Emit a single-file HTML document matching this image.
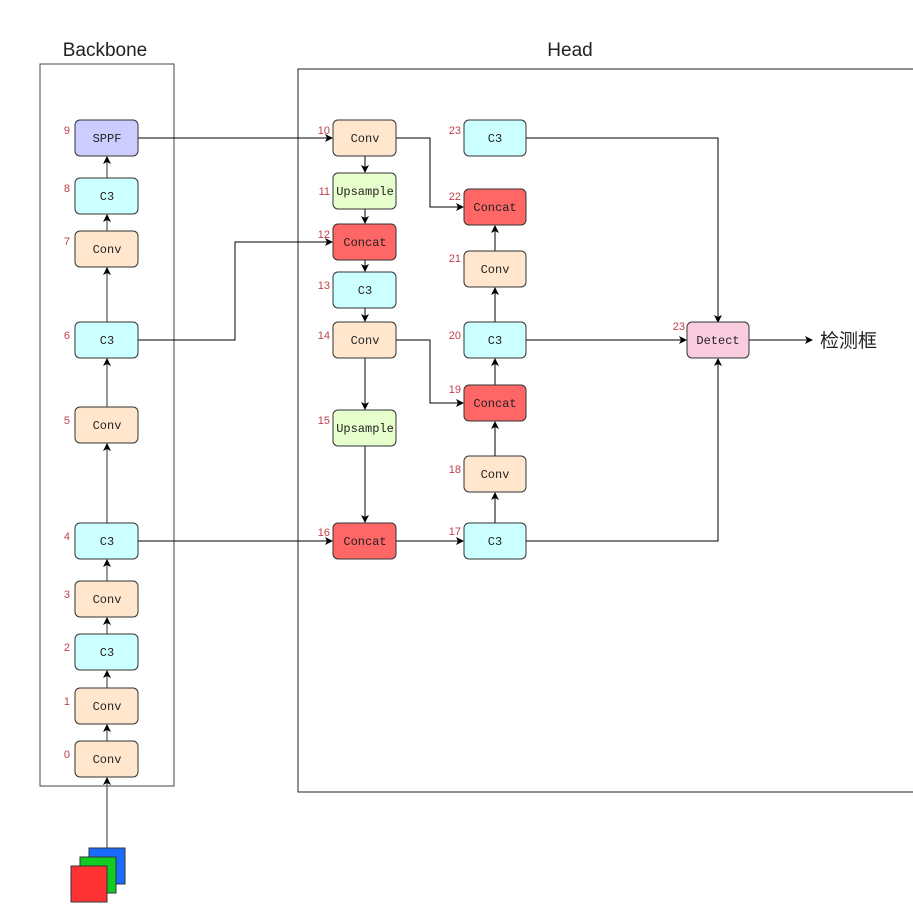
<!DOCTYPE html>
<html><head><meta charset="utf-8"><style>
body{margin:0;background:#fff;}
</style></head><body>
<svg width="913" height="911" viewBox="0 0 913 911" xmlns="http://www.w3.org/2000/svg">
<defs>
<marker id="a" markerWidth="8" markerHeight="8" refX="7" refY="4" orient="auto" markerUnits="userSpaceOnUse"><path d="M0,0 L8,4 L0,8 L2,4z" fill="#000"/></marker>
</defs>
<text x="105" y="56" font-size="19" text-anchor="middle" font-family="Liberation Sans, sans-serif" fill="#222">Backbone</text>
<text x="570" y="56" font-size="19" text-anchor="middle" font-family="Liberation Sans, sans-serif" fill="#222">Head</text>
<rect x="40" y="64" width="134" height="722" fill="none" stroke="#444" stroke-width="1"/>
<rect x="298" y="69" width="620" height="723" fill="none" stroke="#222" stroke-width="1"/>

<g stroke="#555" stroke-width="1.2" fill="none" marker-end="url(#a)">
<line x1="107" y1="848" x2="107" y2="778"/>
<line x1="107" y1="741" x2="107" y2="725"/>
<line x1="107" y1="688" x2="107" y2="671"/>
<line x1="107" y1="634" x2="107" y2="618"/>
<line x1="107" y1="581" x2="107" y2="560"/>
<line x1="107" y1="523" x2="107" y2="444"/>
<line x1="107" y1="407" x2="107" y2="359"/>
<line x1="107" y1="322" x2="107" y2="268"/>
<line x1="107" y1="231" x2="107" y2="215"/>
<line x1="107" y1="178" x2="107" y2="157"/>
</g>
<g stroke="#000" stroke-width="1" fill="none" marker-end="url(#a)">
<line x1="138" y1="138" x2="332" y2="138"/>
<polyline points="138,340 235,340 235,242 332,242"/>
<line x1="138" y1="541" x2="332" y2="541"/>
<line x1="365" y1="156" x2="365" y2="172"/>
<line x1="365" y1="209" x2="365" y2="223"/>
<line x1="365" y1="260" x2="365" y2="271"/>
<line x1="365" y1="308" x2="365" y2="321"/>
<line x1="365" y1="358" x2="365" y2="409"/>
<line x1="365" y1="446" x2="365" y2="522"/>
<line x1="396" y1="541" x2="463" y2="541"/>
<polyline points="396,138 430,138 430,207 463,207"/>
<polyline points="396,340 430,340 430,403 463,403"/>
<line x1="495" y1="523" x2="495" y2="493"/>
<line x1="495" y1="456" x2="495" y2="422"/>
<line x1="495" y1="385" x2="495" y2="359"/>
<line x1="495" y1="322" x2="495" y2="288"/>
<line x1="495" y1="251" x2="495" y2="226"/>
<polyline points="526,138 718,138 718,322"/>
<line x1="526" y1="340" x2="686" y2="340"/>
<polyline points="526,541 718,541 718,359"/>
<line x1="749" y1="340" x2="812" y2="340"/>
</g>

<g stroke="#333" stroke-width="1">
<rect x="75" y="120" width="63" height="36" rx="5" fill="#ccccff"/>
<rect x="75" y="178" width="63" height="36" rx="5" fill="#ccffff"/>
<rect x="75" y="231" width="63" height="36" rx="5" fill="#ffe6cc"/>
<rect x="75" y="322" width="63" height="36" rx="5" fill="#ccffff"/>
<rect x="75" y="407" width="63" height="36" rx="5" fill="#ffe6cc"/>
<rect x="75" y="523" width="63" height="36" rx="5" fill="#ccffff"/>
<rect x="75" y="581" width="63" height="36" rx="5" fill="#ffe6cc"/>
<rect x="75" y="634" width="63" height="36" rx="5" fill="#ccffff"/>
<rect x="75" y="688" width="63" height="36" rx="5" fill="#ffe6cc"/>
<rect x="75" y="741" width="63" height="36" rx="5" fill="#ffe6cc"/>
<rect x="333" y="120" width="63" height="36" rx="5" fill="#ffe6cc"/>
<rect x="333" y="173" width="63" height="36" rx="5" fill="#e6ffcc"/>
<rect x="333" y="224" width="63" height="36" rx="5" fill="#ff6666"/>
<rect x="333" y="272" width="63" height="36" rx="5" fill="#ccffff"/>
<rect x="333" y="322" width="63" height="36" rx="5" fill="#ffe6cc"/>
<rect x="333" y="410" width="63" height="36" rx="5" fill="#e6ffcc"/>
<rect x="333" y="523" width="63" height="36" rx="5" fill="#ff6666"/>
<rect x="464" y="120" width="62" height="36" rx="5" fill="#ccffff"/>
<rect x="464" y="189" width="62" height="36" rx="5" fill="#ff6666"/>
<rect x="464" y="251" width="62" height="36" rx="5" fill="#ffe6cc"/>
<rect x="464" y="322" width="62" height="36" rx="5" fill="#ccffff"/>
<rect x="464" y="385" width="62" height="36" rx="5" fill="#ff6666"/>
<rect x="464" y="456" width="62" height="36" rx="5" fill="#ffe6cc"/>
<rect x="464" y="523" width="62" height="36" rx="5" fill="#ccffff"/>
<rect x="687" y="322" width="62" height="36" rx="5" fill="#f9cce0"/>
</g>

<g font-size="12" text-anchor="middle" fill="#222" font-family="Liberation Mono, monospace">
<text x="107" y="142">SPPF</text>
<text x="107" y="200">C3</text>
<text x="107" y="253">Conv</text>
<text x="107" y="344">C3</text>
<text x="107" y="429">Conv</text>
<text x="107" y="545">C3</text>
<text x="107" y="603">Conv</text>
<text x="107" y="656">C3</text>
<text x="107" y="710">Conv</text>
<text x="107" y="763">Conv</text>
<text x="365" y="142">Conv</text>
<text x="365" y="195">Upsample</text>
<text x="365" y="246">Concat</text>
<text x="365" y="294">C3</text>
<text x="365" y="344">Conv</text>
<text x="365" y="432">Upsample</text>
<text x="365" y="545">Concat</text>
<text x="495" y="142">C3</text>
<text x="495" y="211">Concat</text>
<text x="495" y="273">Conv</text>
<text x="495" y="344">C3</text>
<text x="495" y="407">Concat</text>
<text x="495" y="478">Conv</text>
<text x="495" y="545">C3</text>
<text x="718" y="344">Detect</text>
</g>
<g font-size="11" fill="#c0404a" text-anchor="end" font-family="Liberation Sans, sans-serif">
<text x="70" y="134">9</text><text x="70" y="192">8</text><text x="70" y="245">7</text>
<text x="70" y="339">6</text><text x="70" y="424">5</text><text x="70" y="540">4</text>
<text x="70" y="598">3</text><text x="70" y="651">2</text><text x="70" y="705">1</text><text x="70" y="758">0</text>
<text x="330" y="134">10</text><text x="330" y="195">11</text><text x="330" y="238">12</text>
<text x="330" y="289">13</text><text x="330" y="339">14</text><text x="330" y="424">15</text><text x="330" y="536">16</text>
<text x="461" y="134">23</text><text x="461" y="200">22</text><text x="461" y="262">21</text>
<text x="461" y="339">20</text><text x="461" y="393">19</text><text x="461" y="473">18</text><text x="461" y="535">17</text>
<text x="685" y="330">23</text>
</g>
<text x="820" y="347" font-size="19" fill="#222" font-family="Liberation Sans, Noto Sans CJK SC, sans-serif">检测框</text>

<rect x="89" y="848" width="36" height="36" fill="#1a6cff" stroke="#333" stroke-width="1"/>
<rect x="80" y="857" width="36" height="36" fill="#11cc22" stroke="#333" stroke-width="1"/>
<rect x="71" y="866" width="36" height="36" fill="#ff3333" stroke="#333" stroke-width="1"/>
</svg>
</body></html>
